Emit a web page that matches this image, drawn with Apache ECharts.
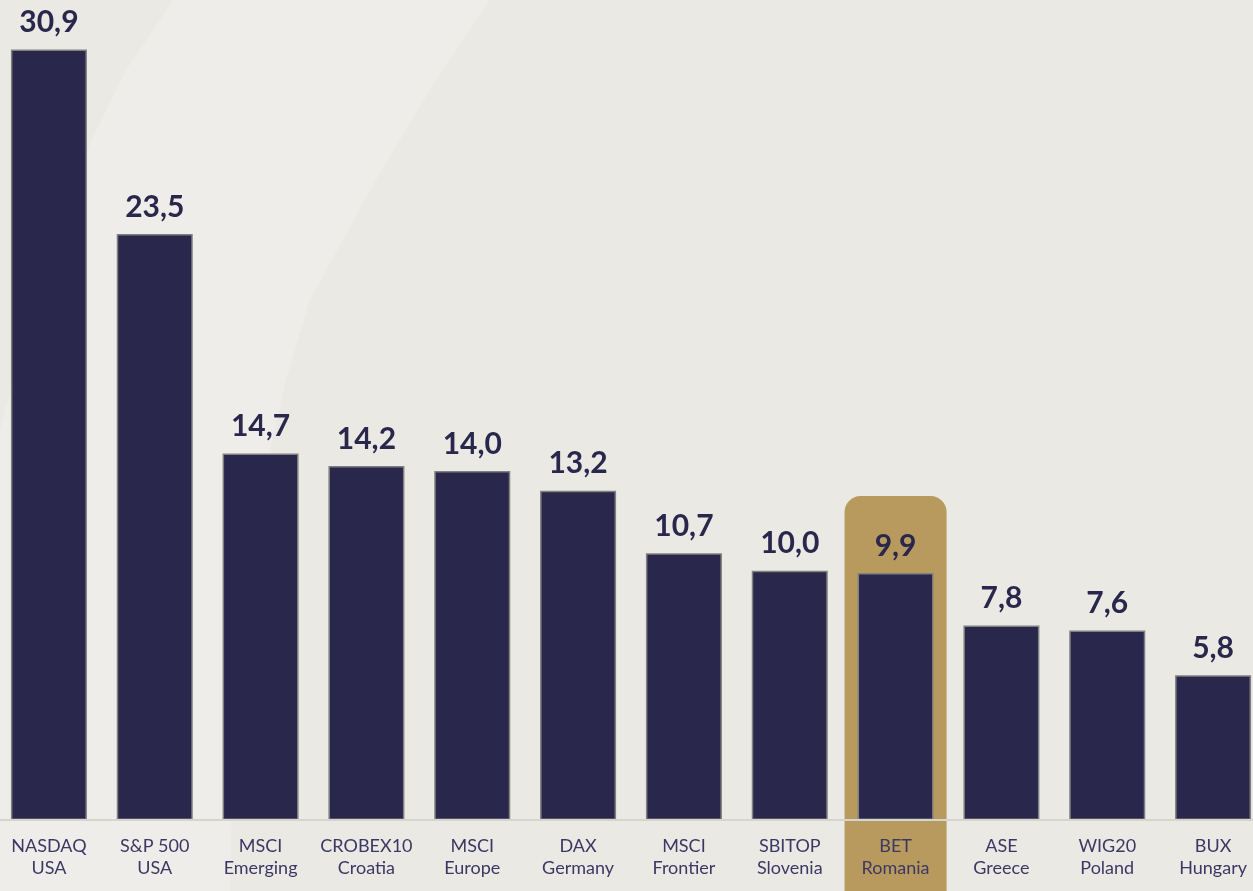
<!DOCTYPE html>
<html>
<head>
<meta charset="utf-8">
<script src="https://cdn.jsdelivr.net/npm/echarts@6/dist/echarts.min.js"></script>
<style>
html,body{margin:0;padding:0;background:#eae9e4;overflow:hidden;width:1253px;height:891px;}
#chart{position:absolute;left:-4px;top:0;width:1270px;height:891px;}
</style>
</head>
<body>
<div id="chart"></div>
<script>
const indexNames = ['NASDAQ', 'S&P 500', 'MSCI', 'CROBEX10', 'MSCI', 'DAX', 'MSCI', 'SBITOP', 'BET', 'ASE', 'WIG20', 'BUX'];
const regions = ['USA', 'USA', 'Emerging', 'Croatia', 'Europe', 'Germany', 'Frontier', 'Slovenia', 'Romania', 'Greece', 'Poland', 'Hungary'];
const values = [30.9, 23.5, 14.7, 14.2, 14.0, 13.2, 10.7, 10.0, 9.9, 7.8, 7.6, 5.8];
const highlighted = ['BET'];

const categories = indexNames.map((n, i) => n + '\n' + regions[i]);
const highlightData = values
  .map((v, i) => highlighted.includes(indexNames[i]) ? [i, v] : null)
  .filter(d => d);

const chart = echarts.init(document.getElementById('chart'), null, {renderer: 'canvas'});
const navy = '#29274b';
const labelColor = '#3b3963';

chart.setOption({
  backgroundColor: '#eae9e4',
  animation: false,
  graphic: [{
    type: 'polygon',
    z: -10,
    silent: true,
    shape: {
      points: [[177, 0], [494, 0], [440, 80], [380, 180], [314, 300], [290, 380], [270, 470], [254, 580], [242, 700], [236, 800], [234, 891],
               [4, 891], [4, 430], [20, 370], [44, 300], [70, 220], [94, 143], [130, 70]]
    },
    style: {fill: '#eeede9'}
  }],
  grid: {left: 0, right: 0, top: 22, bottom: 71, containLabel: false},
  xAxis: {
    type: 'category',
    data: categories,
    z: 5,
    axisLine: {show: true, lineStyle: {color: '#d6d4cf', width: 2}},
    axisTick: {show: false},
    axisLabel: {
      interval: 0,
      margin: 15,
      color: labelColor,
      fontFamily: 'Lato',
      fontSize: 18,
      lineHeight: 22
    }
  },
  yAxis: {
    type: 'value',
    min: 0,
    max: 32,
    show: false,
    splitLine: {show: false}
  },
  series: [{
    type: 'custom',
    z: -1,
    silent: true,
    data: highlightData,
    renderItem: function (params, api) {
      const p = api.coord([api.value(0), api.value(1)]);
      const w = 102;
      const top = p[1] - 77;
      return {
        type: 'rect',
        shape: {x: p[0] - w / 2, y: top, width: w, height: api.getHeight() - top, r: [16, 16, 0, 0]},
        style: {fill: '#b89a5e'}
      };
    }
  }, {
    type: 'bar',
    data: values,
    barWidth: 76,
    z: 3,
    itemStyle: {color: navy, borderColor: '#808080', borderWidth: 1.5},
    label: {
      show: true,
      position: 'top',
      distance: 12,
      color: navy,
      fontFamily: 'Lato',
      fontWeight: 'bold',
      fontSize: 30,
      formatter: p => p.value.toFixed(1).replace('.', ',')
    }
  }]
});
</script>
</body>
</html>
